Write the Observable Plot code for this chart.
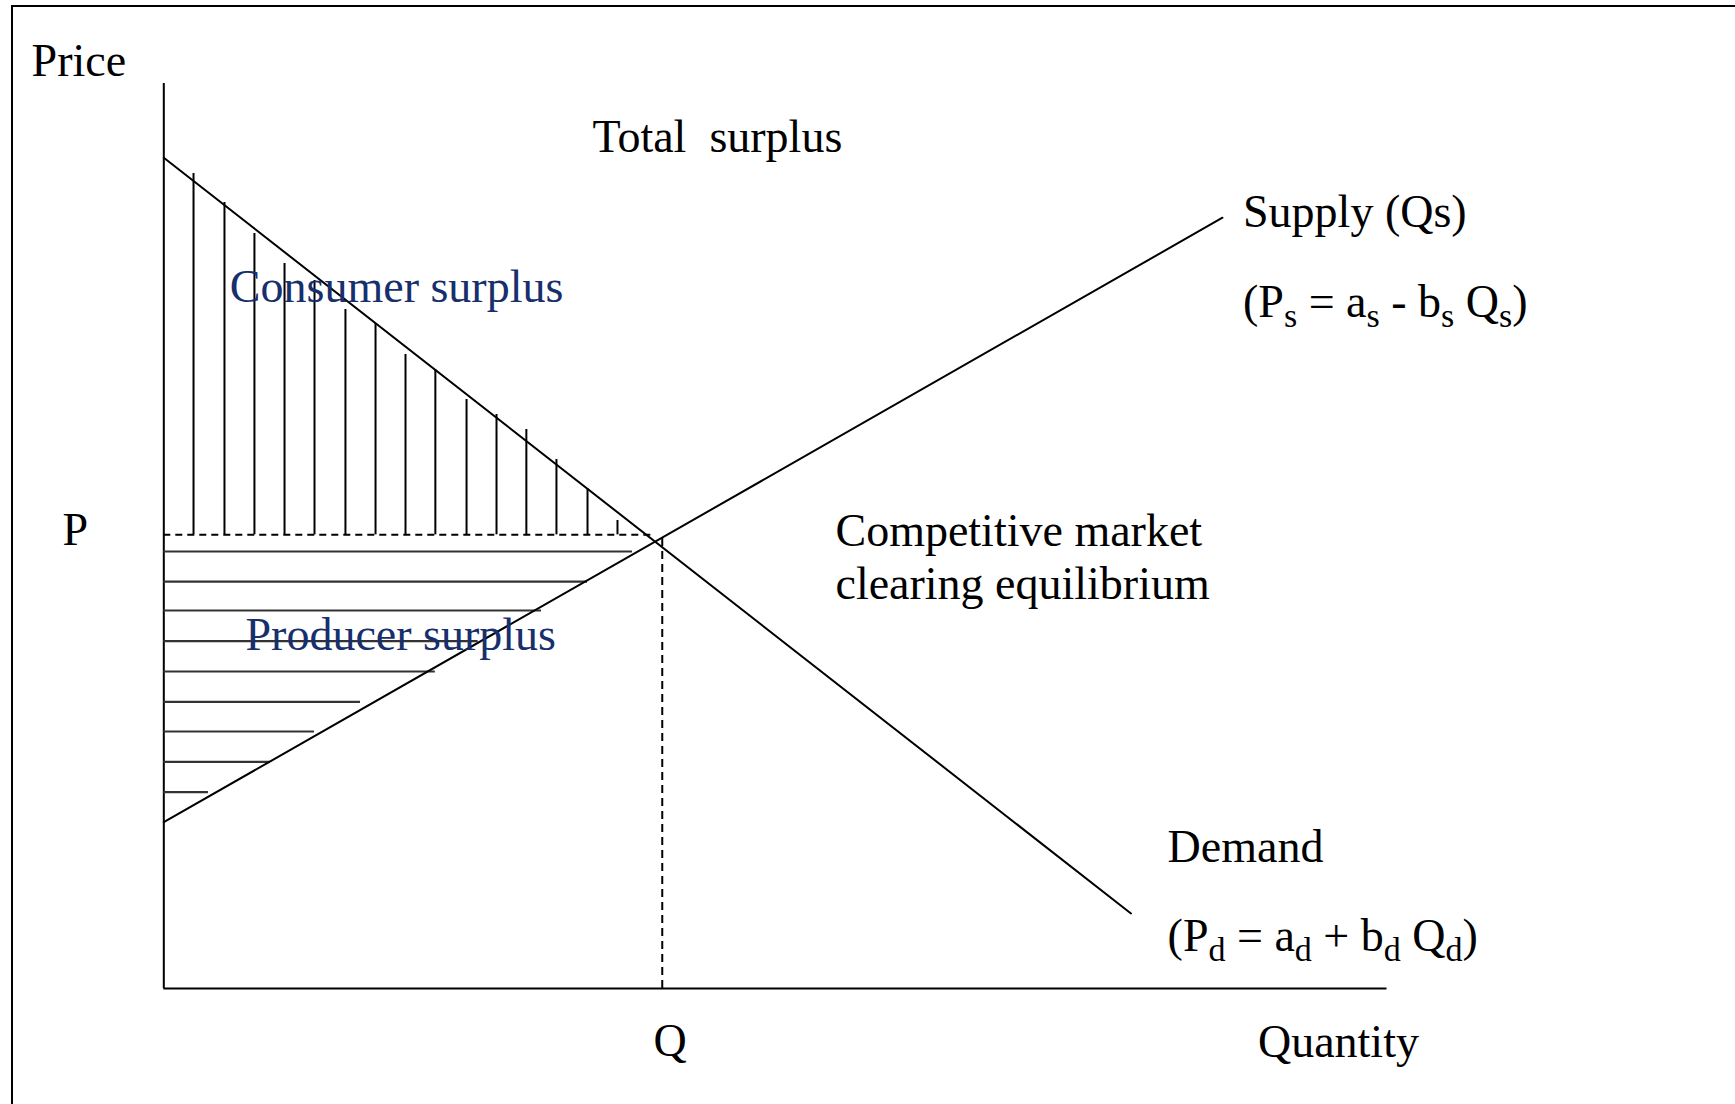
<!DOCTYPE html>
<html>
<head>
<meta charset="utf-8">
<script src="https://cdn.jsdelivr.net/npm/d3@7"></script>
<script src="https://cdn.jsdelivr.net/npm/@observablehq/plot@0.6"></script>
<style>
html, body { margin: 0; padding: 0; background: #fff; overflow: hidden; }
#wrap { position: relative; width: 1735px; height: 1104px; overflow: hidden; background: #fff; }
#frame { position: absolute; left: 11px; top: 5px; width: 3000px; height: 3000px;
  border-left: 2px solid #000; border-top: 2px solid #000; pointer-events: none; }
svg text { white-space: pre; }
</style>
</head>
<body>
<div id="wrap"><div id="frame"></div></div>
<script>
// ---- Data (in quantity / price units) ----
const demandQ = [0, 79.07];
const demandP = [91.79, 8.29];
const supplyQ = [0, 86.55];
const supplyP = [18.38, 85.17];

const priceLevel = 50.13;      // dashed P line
const priceDashEnd = 39.9;     // where the dashed P line stops
const quantityLevel = 40.75;   // dashed Q line

// consumer surplus hatching (vertical strokes)
const consumerHatchQ = [2.43, 4.96, 7.41, 9.87, 12.32, 14.85, 17.31, 19.76, 22.2, 24.75, 27.2, 29.64, 32.1, 34.64, 37.09];
const consumerHatchTop = [90.06, 86.85, 83.43, 80.11, 78.23, 75.03, 73.48, 70.06, 68.4, 65.08, 63.43, 61.77, 58.45, 55.25, 51.71];

// producer surplus hatching (horizontal strokes)
const producerHatchP = [48.29, 44.96, 41.77, 38.38, 35.03, 31.68, 28.4, 25.05, 21.69];
const producerHatchEnd = [38.32, 34.64, 30.88, 25.7, 22.2, 16.08, 12.32, 8.72, 3.65];

// text labels ("_x" marks a subscript)
const labelText = ["Price", "Total  surplus", "Consumer surplus", "Producer surplus",
  "Competitive market", "clearing equilibrium", "P", "Q", "Quantity",
  "Supply (Qs)", "(P_s = a_s - b_s Q_s)", "Demand", "(P_d = a_d + b_d Q_d)"];
const labelQ = [-10.81, 35.05, 5.40, 6.68, 54.91, 54.91, -8.28, 40.03, 89.45, 88.23, 88.23, 82.06, 82.06];
const labelP = [100.88, 92.38, 75.86, 37.35, 48.95, 43.09, 49.06, -7.51, -7.62, 84.09, 74.25, 13.98, 4.09];
const labelKind = ["plain", "plain", "area", "area", "plain", "plain", "plain", "plain", "plain",
  "plain", "plain", "plain", "plain"];

// ---- Build tables ----
const demand = demandQ.map((q, i) => ({q, p: demandP[i]}));
const supply = supplyQ.map((q, i) => ({q, p: supplyP[i]}));
const consumerHatch = consumerHatchQ.map((q, i) => ({q, top: consumerHatchTop[i]}));
const producerHatch = producerHatchP.map((p, i) => ({p, end: producerHatchEnd[i]}));
const labels = labelText.map((text, i) => ({text, q: labelQ[i], p: labelP[i], kind: labelKind[i]}));

const navy = "#172f6c";
const serif = "'Liberation Serif', 'Times New Roman', serif";

const chart = Plot.plot({
  width: 1735,
  height: 1104,
  margin: 0,
  x: {domain: [0, 100], range: [163.3, 1386.5], axis: null},
  y: {domain: [0, 100], range: [988, 83], axis: null},
  style: {fontFamily: serif, fontSize: "46px", background: "#fff", overflow: "visible"},
  marks: [
    // axes
    Plot.ruleX([0], {y1: 0, y2: 100, stroke: "#000", strokeWidth: 2}),
    Plot.ruleY([0], {x1: 0, x2: 100, stroke: "#000", strokeWidth: 2}),
    // hatching
    Plot.ruleX(consumerHatch, {x: "q", y1: priceLevel, y2: "top", stroke: "#000", strokeWidth: 2}),
    Plot.ruleY(producerHatch, {y: "p", x1: 0, x2: "end", stroke: "#333", strokeWidth: 2.2}),
    // dashed equilibrium guides
    Plot.ruleY([priceLevel], {x1: 0, x2: priceDashEnd, stroke: "#000", strokeWidth: 2, strokeDasharray: "7,5"}),
    Plot.ruleX([quantityLevel], {y1: 0, y2: priceLevel, stroke: "#000", strokeWidth: 2, strokeDasharray: "8,5"}),
    // demand & supply
    Plot.line(demand, {x: "q", y: "p", stroke: "#000", strokeWidth: 2}),
    Plot.line(supply, {x: "q", y: "p", stroke: "#000", strokeWidth: 2}),
    // labels
    Plot.text(labels.filter(d => d.kind === "plain"), {x: "q", y: "p", text: "text",
      textAnchor: "start", lineAnchor: "bottom", fill: "#000", fontSize: 46}),
    Plot.text(labels.filter(d => d.kind === "area"), {x: "q", y: "p", text: "text",
      textAnchor: "start", lineAnchor: "bottom", fill: navy, fontSize: 46})
  ]
});

// turn "_x" markers of the equations into real subscripts
d3.select(chart).selectAll("text")
  .filter(function() { return this.textContent.includes("_"); })
  .each(function() {
    const raw = this.textContent;
    const el = d3.select(this);
    el.text(null);
    const parts = raw.split(/(_\w)/);
    let shifted = false;
    parts.forEach(part => {
      if (!part) return;
      if (part.startsWith("_")) {
        el.append("tspan").attr("dy", 10).attr("font-size", 34).text(part.slice(1));
        shifted = true;
      } else {
        const t = el.append("tspan").text(part);
        if (shifted) { t.attr("dy", -10); shifted = false; }
      }
    });
  });

const wrap = document.getElementById("wrap");
wrap.insertBefore(chart, wrap.firstChild);
</script>
</body>
</html>
